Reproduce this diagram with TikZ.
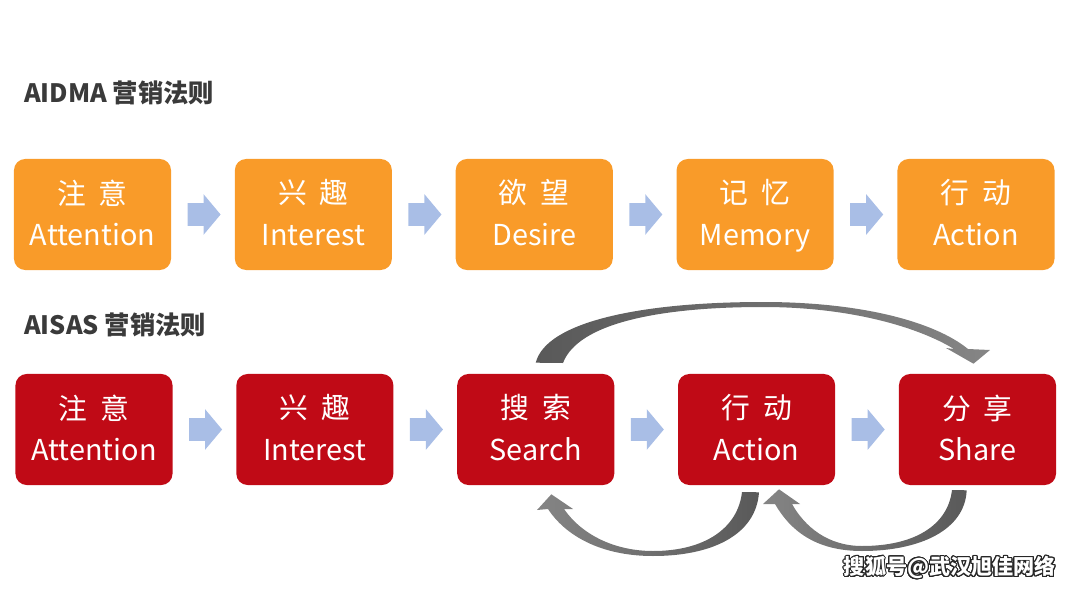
\documentclass[tikz,border=0pt]{standalone}
\usepackage{fontspec}
\setmainfont{Noto Sans CJK SC}
\usepackage[copies]{contour}
\contourlength{0.7pt}
\contournumber{24}
\usetikzlibrary{positioning, shapes.arrows}

\definecolor{aidmaorange}{HTML}{F99B29}
\definecolor{aisasred}{HTML}{C00A16}
\definecolor{steparrow}{HTML}{A9BEE6}
\definecolor{titlegray}{HTML}{3A3A3A}
\definecolor{banddark}{HTML}{595959}
\definecolor{bandmid}{HTML}{858585}
\definecolor{bandlight}{HTML}{E2E2E2}

\begin{document}
\begin{tikzpicture}[
    x=0.025cm, y=-0.025cm,
    stage/.style={
        rounded corners=8pt, minimum width=3.925cm, minimum height=2.775cm,
        inner sep=0pt, align=center, text=white, text depth=2.8pt,
        font=\fontsize{20.5}{29.5}\selectfont
    },
    aidma/.style={stage, fill=aidmaorange},
    aisas/.style={stage, fill=aisasred},
    stepto/.style={
        single arrow, fill=steparrow, minimum height=0.825cm,
        minimum width=1.0cm, single arrow head extend=0.225cm,
        single arrow tip angle=100, inner xsep=0pt, inner ysep=0.275cm
    },
    rowtitle/.style={
        anchor=west, inner sep=0pt, text=titlegray,
        font=\fontsize{18}{20}\selectfont\bfseries
    },
]
\useasboundingbox (0,0) rectangle (1080,592);

% =====================================================================
%  TOP ROW:  AIDMA
% =====================================================================
\node[rowtitle] (aidmatitle) at (24,93) {AIDMA 营销法则};

\node[aidma] (t1) at (92.5,214.5) {注\hspace{.45em}意\\Attention};
\node[stepto, right=0.4cm of t1] (ta1) {};
\node[aidma, right=0.34cm of ta1] (t2) {兴\hspace{.45em}趣\\Interest};
\node[stepto, right=0.4cm of t2] (ta2) {};
\node[aidma, right=0.34cm of ta2] (t3) {欲\hspace{.45em}望\\Desire};
\node[stepto, right=0.4cm of t3] (ta3) {};
\node[aidma, right=0.34cm of ta3] (t4) {记\hspace{.45em}忆\\Memory};
\node[stepto, right=0.4cm of t4] (ta4) {};
\node[aidma, right=0.34cm of ta4] (t5) {行\hspace{.45em}动\\Action};

% =====================================================================
%  BOTTOM ROW:  AISAS
% =====================================================================
\node[rowtitle] (aisastitle) at (24,325) {AISAS 营销法则};

\node[aisas] (b1) at (94,429.5) {注\hspace{.45em}意\\Attention};
\node[stepto, right=0.4cm of b1] (ba1) {};
\node[aisas, right=0.34cm of ba1] (b2) {兴\hspace{.45em}趣\\Interest};
\node[stepto, right=0.4cm of b2] (ba2) {};
\node[aisas, right=0.34cm of ba2] (b3) {搜\hspace{.45em}索\\Search};
\node[stepto, right=0.4cm of b3] (ba3) {};
\node[aisas, right=0.34cm of ba3] (b4) {行\hspace{.45em}动\\Action};
\node[stepto, right=0.4cm of b4] (ba4) {};
\node[aisas, right=0.34cm of ba4] (b5) {分\hspace{.45em}享\\Share};

% Search -> Share, over the top
\coordinate (srchtop)  at ([yshift=0.275cm]b3.north);
\coordinate (sharetop) at ([xshift=-0.1cm, yshift=0.25cm]b5.north);
\shade[left color=banddark, middle color=bandlight, right color=bandmid]
    (srchtop) .. controls (546,322) and (640,302) .. (763,302)
    .. controls (862,302) and (935,322) .. (968,349)
    -- (990,350) -- (sharetop) -- (946,348) -- (954,349)
    .. controls (918,327) and (850,307) .. (763,307)
    .. controls (660,307) and (578,323) .. (563,363) -- cycle;

% Action -> Search, underneath
\coordinate (actbot)  at ([xshift=0.06cm, yshift=-0.175cm]b4.south);
\coordinate (srchbot) at ([xshift=0.39cm, yshift=-0.225cm]b3.south);
\shade[left color=bandmid, middle color=bandlight, right color=banddark]
    (actbot) .. controls (756,535) and (712,556) .. (653,556)
    .. controls (600,556) and (565,535) .. (548,509)
    -- (537,510) -- (srchbot) -- (573,509) -- (564,509)
    .. controls (582,535) and (615,551) .. (653,551)
    .. controls (705,551) and (738,528) .. (742,492) -- cycle;

% Share -> Action, underneath
\coordinate (sharebot) at ([xshift=-0.27cm, yshift=-0.125cm]b5.south);
\coordinate (actbot2)  at ([xshift=0.56cm, yshift=-0.1cm]b4.south);
\shade[left color=bandmid, middle color=bandlight, right color=banddark]
    (sharebot) .. controls (965,530) and (920,551) .. (862,551)
    .. controls (815,551) and (790,530) .. (775,504)
    -- (763,504) -- (actbot2) -- (800,504) -- (792,504)
    .. controls (805,527) and (828,546) .. (862,546)
    .. controls (915,546) and (948,525) .. (952,490) -- cycle;

% Watermark
\node[anchor=east, inner sep=0pt, font=\fontsize{15}{16}\selectfont\bfseries]
    (mark) at (1056,568) {\contour{black!85}{\textcolor{white}{搜狐号@武汉旭佳网络}}};

\end{tikzpicture}
\end{document}
